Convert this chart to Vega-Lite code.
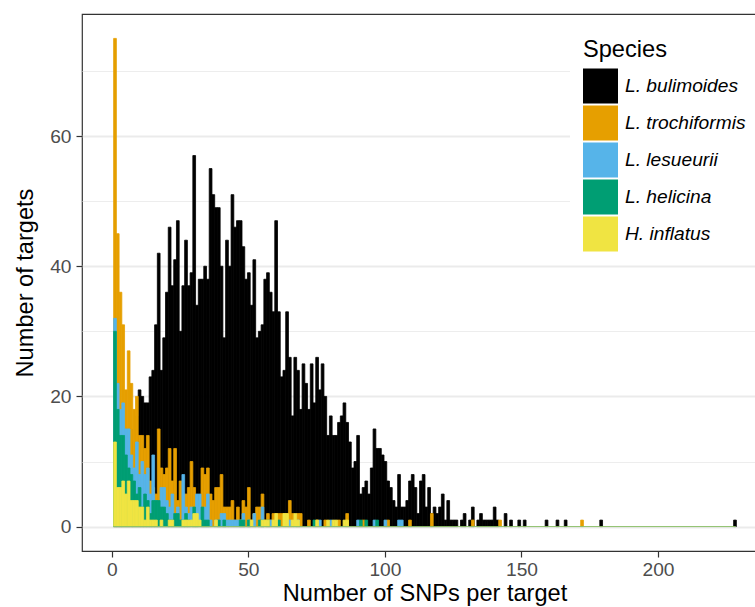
{
  "$schema": "https://vega.github.io/schema/vega-lite/v6.json",
  "width": 685,
  "height": 537,
  "autosize": {"type": "none"},
  "padding": {"left": 82, "top": 14, "right": 0, "bottom": 56},
  "background": "white",
  "config": {
    "font": "Liberation Sans",
    "view": {"stroke": "#333333", "strokeWidth": 1.2}
  },
  "layer": [
    {
      "data": {"values": [
{"species":"L. bulimoides","snps":1,"targets":2},{"species":"L. bulimoides","snps":2,"targets":3},{"species":"L. bulimoides","snps":3,"targets":5},{"species":"L. bulimoides","snps":4,"targets":8},{"species":"L. bulimoides","snps":5,"targets":10},{"species":"L. bulimoides","snps":6,"targets":12},{"species":"L. bulimoides","snps":7,"targets":13},{"species":"L. bulimoides","snps":8,"targets":15},{"species":"L. bulimoides","snps":9,"targets":17},{"species":"L. bulimoides","snps":10,"targets":21},
{"species":"L. bulimoides","snps":11,"targets":20},{"species":"L. bulimoides","snps":12,"targets":19},{"species":"L. bulimoides","snps":13,"targets":19},{"species":"L. bulimoides","snps":14,"targets":23},{"species":"L. bulimoides","snps":15,"targets":24},{"species":"L. bulimoides","snps":16,"targets":31},{"species":"L. bulimoides","snps":17,"targets":42},{"species":"L. bulimoides","snps":18,"targets":24},{"species":"L. bulimoides","snps":19,"targets":29},{"species":"L. bulimoides","snps":20,"targets":36},
{"species":"L. bulimoides","snps":21,"targets":46},{"species":"L. bulimoides","snps":22,"targets":37},{"species":"L. bulimoides","snps":23,"targets":41},{"species":"L. bulimoides","snps":24,"targets":47},{"species":"L. bulimoides","snps":25,"targets":30},{"species":"L. bulimoides","snps":26,"targets":37},{"species":"L. bulimoides","snps":27,"targets":44},{"species":"L. bulimoides","snps":28,"targets":37},{"species":"L. bulimoides","snps":29,"targets":39},{"species":"L. bulimoides","snps":30,"targets":57},
{"species":"L. bulimoides","snps":31,"targets":34},{"species":"L. bulimoides","snps":32,"targets":38},{"species":"L. bulimoides","snps":33,"targets":38},{"species":"L. bulimoides","snps":34,"targets":40},{"species":"L. bulimoides","snps":35,"targets":38},{"species":"L. bulimoides","snps":36,"targets":55},{"species":"L. bulimoides","snps":37,"targets":51},{"species":"L. bulimoides","snps":38,"targets":49},{"species":"L. bulimoides","snps":39,"targets":49},{"species":"L. bulimoides","snps":40,"targets":40},
{"species":"L. bulimoides","snps":41,"targets":29},{"species":"L. bulimoides","snps":42,"targets":44},{"species":"L. bulimoides","snps":43,"targets":40},{"species":"L. bulimoides","snps":44,"targets":51},{"species":"L. bulimoides","snps":45,"targets":46},{"species":"L. bulimoides","snps":46,"targets":47},{"species":"L. bulimoides","snps":47,"targets":47},{"species":"L. bulimoides","snps":48,"targets":43},{"species":"L. bulimoides","snps":49,"targets":38},{"species":"L. bulimoides","snps":50,"targets":39},
{"species":"L. bulimoides","snps":51,"targets":34},{"species":"L. bulimoides","snps":52,"targets":41},{"species":"L. bulimoides","snps":53,"targets":29},{"species":"L. bulimoides","snps":54,"targets":30},{"species":"L. bulimoides","snps":55,"targets":31},{"species":"L. bulimoides","snps":56,"targets":38},{"species":"L. bulimoides","snps":57,"targets":39},{"species":"L. bulimoides","snps":58,"targets":36},{"species":"L. bulimoides","snps":59,"targets":33},{"species":"L. bulimoides","snps":60,"targets":47},
{"species":"L. bulimoides","snps":61,"targets":33},{"species":"L. bulimoides","snps":62,"targets":23},{"species":"L. bulimoides","snps":63,"targets":24},{"species":"L. bulimoides","snps":64,"targets":33},{"species":"L. bulimoides","snps":65,"targets":26},{"species":"L. bulimoides","snps":66,"targets":17},{"species":"L. bulimoides","snps":67,"targets":26},{"species":"L. bulimoides","snps":68,"targets":24},{"species":"L. bulimoides","snps":69,"targets":18},{"species":"L. bulimoides","snps":70,"targets":25},
{"species":"L. bulimoides","snps":71,"targets":22},{"species":"L. bulimoides","snps":72,"targets":18},{"species":"L. bulimoides","snps":73,"targets":25},{"species":"L. bulimoides","snps":74,"targets":19},{"species":"L. bulimoides","snps":75,"targets":26},{"species":"L. bulimoides","snps":76,"targets":21},{"species":"L. bulimoides","snps":77,"targets":25},{"species":"L. bulimoides","snps":78,"targets":20},{"species":"L. bulimoides","snps":79,"targets":14},{"species":"L. bulimoides","snps":80,"targets":17},
{"species":"L. bulimoides","snps":81,"targets":14},{"species":"L. bulimoides","snps":82,"targets":14},{"species":"L. bulimoides","snps":83,"targets":16},{"species":"L. bulimoides","snps":84,"targets":17},{"species":"L. bulimoides","snps":85,"targets":19},{"species":"L. bulimoides","snps":86,"targets":16},{"species":"L. bulimoides","snps":87,"targets":13},{"species":"L. bulimoides","snps":88,"targets":9},{"species":"L. bulimoides","snps":89,"targets":10},{"species":"L. bulimoides","snps":90,"targets":14},
{"species":"L. bulimoides","snps":91,"targets":5},{"species":"L. bulimoides","snps":92,"targets":6},{"species":"L. bulimoides","snps":93,"targets":7},{"species":"L. bulimoides","snps":94,"targets":5},{"species":"L. bulimoides","snps":95,"targets":9},{"species":"L. bulimoides","snps":96,"targets":15},{"species":"L. bulimoides","snps":97,"targets":12},{"species":"L. bulimoides","snps":98,"targets":12},{"species":"L. bulimoides","snps":99,"targets":11},{"species":"L. bulimoides","snps":100,"targets":10},
{"species":"L. bulimoides","snps":101,"targets":7},{"species":"L. bulimoides","snps":102,"targets":6},{"species":"L. bulimoides","snps":103,"targets":4},{"species":"L. bulimoides","snps":104,"targets":3},{"species":"L. bulimoides","snps":105,"targets":8},{"species":"L. bulimoides","snps":106,"targets":3},{"species":"L. bulimoides","snps":107,"targets":3},{"species":"L. bulimoides","snps":108,"targets":4},{"species":"L. bulimoides","snps":109,"targets":7},{"species":"L. bulimoides","snps":110,"targets":8},
{"species":"L. bulimoides","snps":111,"targets":6},{"species":"L. bulimoides","snps":112,"targets":2},{"species":"L. bulimoides","snps":113,"targets":7},{"species":"L. bulimoides","snps":114,"targets":8},{"species":"L. bulimoides","snps":115,"targets":3},{"species":"L. bulimoides","snps":116,"targets":6},{"species":"L. bulimoides","snps":117,"targets":2},{"species":"L. bulimoides","snps":118,"targets":3},{"species":"L. bulimoides","snps":119,"targets":2},{"species":"L. bulimoides","snps":120,"targets":3},
{"species":"L. bulimoides","snps":121,"targets":5},{"species":"L. bulimoides","snps":122,"targets":1},{"species":"L. bulimoides","snps":123,"targets":4},{"species":"L. bulimoides","snps":124,"targets":1},{"species":"L. bulimoides","snps":125,"targets":1},{"species":"L. bulimoides","snps":126,"targets":1},{"species":"L. bulimoides","snps":128,"targets":1},{"species":"L. bulimoides","snps":129,"targets":2},{"species":"L. bulimoides","snps":131,"targets":1},{"species":"L. bulimoides","snps":132,"targets":3},
{"species":"L. bulimoides","snps":134,"targets":1},{"species":"L. bulimoides","snps":135,"targets":2},{"species":"L. bulimoides","snps":136,"targets":1},{"species":"L. bulimoides","snps":137,"targets":1},{"species":"L. bulimoides","snps":138,"targets":1},{"species":"L. bulimoides","snps":139,"targets":1},{"species":"L. bulimoides","snps":140,"targets":3},{"species":"L. bulimoides","snps":141,"targets":1},{"species":"L. bulimoides","snps":144,"targets":2},{"species":"L. bulimoides","snps":146,"targets":1},
{"species":"L. bulimoides","snps":149,"targets":1},{"species":"L. bulimoides","snps":151,"targets":1},{"species":"L. bulimoides","snps":159,"targets":1},{"species":"L. bulimoides","snps":163,"targets":1},{"species":"L. bulimoides","snps":166,"targets":1},{"species":"L. bulimoides","snps":179,"targets":1},{"species":"L. bulimoides","snps":228,"targets":1},
{"species":"L. trochiformis","snps":1,"targets":75},{"species":"L. trochiformis","snps":2,"targets":45},{"species":"L. trochiformis","snps":3,"targets":36},{"species":"L. trochiformis","snps":4,"targets":31},{"species":"L. trochiformis","snps":5,"targets":21},{"species":"L. trochiformis","snps":6,"targets":27},{"species":"L. trochiformis","snps":7,"targets":22},{"species":"L. trochiformis","snps":8,"targets":18},{"species":"L. trochiformis","snps":9,"targets":20},{"species":"L. trochiformis","snps":10,"targets":14},
{"species":"L. trochiformis","snps":11,"targets":14},{"species":"L. trochiformis","snps":12,"targets":12},{"species":"L. trochiformis","snps":13,"targets":14},{"species":"L. trochiformis","snps":14,"targets":7},{"species":"L. trochiformis","snps":15,"targets":6},{"species":"L. trochiformis","snps":16,"targets":5},{"species":"L. trochiformis","snps":17,"targets":15},{"species":"L. trochiformis","snps":18,"targets":9},{"species":"L. trochiformis","snps":19,"targets":8},{"species":"L. trochiformis","snps":20,"targets":9},
{"species":"L. trochiformis","snps":21,"targets":12},{"species":"L. trochiformis","snps":22,"targets":7},{"species":"L. trochiformis","snps":23,"targets":12},{"species":"L. trochiformis","snps":24,"targets":4},{"species":"L. trochiformis","snps":25,"targets":7},{"species":"L. trochiformis","snps":26,"targets":5},{"species":"L. trochiformis","snps":27,"targets":5},{"species":"L. trochiformis","snps":28,"targets":6},{"species":"L. trochiformis","snps":29,"targets":10},{"species":"L. trochiformis","snps":30,"targets":6},
{"species":"L. trochiformis","snps":31,"targets":4},{"species":"L. trochiformis","snps":32,"targets":3},{"species":"L. trochiformis","snps":33,"targets":9},{"species":"L. trochiformis","snps":34,"targets":8},{"species":"L. trochiformis","snps":35,"targets":9},{"species":"L. trochiformis","snps":36,"targets":5},{"species":"L. trochiformis","snps":37,"targets":4},{"species":"L. trochiformis","snps":38,"targets":6},{"species":"L. trochiformis","snps":39,"targets":6},{"species":"L. trochiformis","snps":40,"targets":8},
{"species":"L. trochiformis","snps":41,"targets":3},{"species":"L. trochiformis","snps":42,"targets":3},{"species":"L. trochiformis","snps":43,"targets":3},{"species":"L. trochiformis","snps":44,"targets":4},{"species":"L. trochiformis","snps":45,"targets":1},{"species":"L. trochiformis","snps":46,"targets":3},{"species":"L. trochiformis","snps":47,"targets":1},{"species":"L. trochiformis","snps":48,"targets":4},{"species":"L. trochiformis","snps":49,"targets":3},{"species":"L. trochiformis","snps":50,"targets":6},
{"species":"L. trochiformis","snps":51,"targets":1},{"species":"L. trochiformis","snps":52,"targets":2},{"species":"L. trochiformis","snps":53,"targets":3},{"species":"L. trochiformis","snps":54,"targets":3},{"species":"L. trochiformis","snps":55,"targets":5},{"species":"L. trochiformis","snps":56,"targets":1},{"species":"L. trochiformis","snps":57,"targets":2},{"species":"L. trochiformis","snps":58,"targets":1},{"species":"L. trochiformis","snps":59,"targets":2},{"species":"L. trochiformis","snps":60,"targets":2},
{"species":"L. trochiformis","snps":61,"targets":2},{"species":"L. trochiformis","snps":62,"targets":2},{"species":"L. trochiformis","snps":63,"targets":2},{"species":"L. trochiformis","snps":64,"targets":2},{"species":"L. trochiformis","snps":65,"targets":4},{"species":"L. trochiformis","snps":66,"targets":2},{"species":"L. trochiformis","snps":68,"targets":2},{"species":"L. trochiformis","snps":69,"targets":2},{"species":"L. trochiformis","snps":72,"targets":1},{"species":"L. trochiformis","snps":75,"targets":1},
{"species":"L. trochiformis","snps":78,"targets":1},{"species":"L. trochiformis","snps":83,"targets":1},{"species":"L. trochiformis","snps":86,"targets":2},{"species":"L. trochiformis","snps":92,"targets":1},{"species":"L. trochiformis","snps":101,"targets":1},{"species":"L. trochiformis","snps":109,"targets":1},{"species":"L. trochiformis","snps":117,"targets":2},{"species":"L. trochiformis","snps":132,"targets":1},{"species":"L. trochiformis","snps":142,"targets":1},{"species":"L. trochiformis","snps":172,"targets":1},
{"species":"L. lesueurii","snps":1,"targets":32},{"species":"L. lesueurii","snps":2,"targets":22},{"species":"L. lesueurii","snps":3,"targets":18},{"species":"L. lesueurii","snps":4,"targets":19},{"species":"L. lesueurii","snps":5,"targets":15},{"species":"L. lesueurii","snps":6,"targets":15},{"species":"L. lesueurii","snps":7,"targets":11},{"species":"L. lesueurii","snps":8,"targets":9},{"species":"L. lesueurii","snps":9,"targets":13},{"species":"L. lesueurii","snps":10,"targets":8},
{"species":"L. lesueurii","snps":11,"targets":10},{"species":"L. lesueurii","snps":12,"targets":8},{"species":"L. lesueurii","snps":13,"targets":9},{"species":"L. lesueurii","snps":14,"targets":5},{"species":"L. lesueurii","snps":15,"targets":11},{"species":"L. lesueurii","snps":16,"targets":4},{"species":"L. lesueurii","snps":17,"targets":3},{"species":"L. lesueurii","snps":18,"targets":6},{"species":"L. lesueurii","snps":19,"targets":6},{"species":"L. lesueurii","snps":20,"targets":4},
{"species":"L. lesueurii","snps":21,"targets":3},{"species":"L. lesueurii","snps":22,"targets":5},{"species":"L. lesueurii","snps":23,"targets":2},{"species":"L. lesueurii","snps":24,"targets":3},{"species":"L. lesueurii","snps":25,"targets":1},{"species":"L. lesueurii","snps":26,"targets":8},{"species":"L. lesueurii","snps":27,"targets":3},{"species":"L. lesueurii","snps":28,"targets":2},{"species":"L. lesueurii","snps":29,"targets":3},{"species":"L. lesueurii","snps":30,"targets":2},
{"species":"L. lesueurii","snps":31,"targets":5},{"species":"L. lesueurii","snps":32,"targets":5},{"species":"L. lesueurii","snps":33,"targets":2},{"species":"L. lesueurii","snps":34,"targets":3},{"species":"L. lesueurii","snps":35,"targets":5},{"species":"L. lesueurii","snps":36,"targets":1},{"species":"L. lesueurii","snps":38,"targets":1},{"species":"L. lesueurii","snps":39,"targets":1},{"species":"L. lesueurii","snps":40,"targets":2},{"species":"L. lesueurii","snps":41,"targets":2},
{"species":"L. lesueurii","snps":42,"targets":1},{"species":"L. lesueurii","snps":43,"targets":1},{"species":"L. lesueurii","snps":44,"targets":1},{"species":"L. lesueurii","snps":45,"targets":1},{"species":"L. lesueurii","snps":46,"targets":1},{"species":"L. lesueurii","snps":47,"targets":1},{"species":"L. lesueurii","snps":48,"targets":2},{"species":"L. lesueurii","snps":50,"targets":1},{"species":"L. lesueurii","snps":52,"targets":2},{"species":"L. lesueurii","snps":55,"targets":3},
{"species":"L. lesueurii","snps":58,"targets":1},{"species":"L. lesueurii","snps":60,"targets":1},{"species":"L. lesueurii","snps":65,"targets":1},{"species":"L. lesueurii","snps":67,"targets":1},{"species":"L. lesueurii","snps":68,"targets":1},{"species":"L. lesueurii","snps":76,"targets":1},{"species":"L. lesueurii","snps":80,"targets":1},{"species":"L. lesueurii","snps":90,"targets":1},{"species":"L. lesueurii","snps":96,"targets":1},{"species":"L. lesueurii","snps":100,"targets":1},
{"species":"L. lesueurii","snps":105,"targets":1},{"species":"L. lesueurii","snps":106,"targets":1},
{"species":"L. helicina","snps":1,"targets":30},{"species":"L. helicina","snps":2,"targets":18},{"species":"L. helicina","snps":3,"targets":14},{"species":"L. helicina","snps":4,"targets":14},{"species":"L. helicina","snps":5,"targets":11},{"species":"L. helicina","snps":6,"targets":9},{"species":"L. helicina","snps":7,"targets":8},{"species":"L. helicina","snps":8,"targets":7},{"species":"L. helicina","snps":9,"targets":5},{"species":"L. helicina","snps":10,"targets":6},
{"species":"L. helicina","snps":11,"targets":3},{"species":"L. helicina","snps":12,"targets":5},{"species":"L. helicina","snps":13,"targets":4},{"species":"L. helicina","snps":14,"targets":2},{"species":"L. helicina","snps":15,"targets":4},{"species":"L. helicina","snps":16,"targets":4},{"species":"L. helicina","snps":17,"targets":4},{"species":"L. helicina","snps":18,"targets":3},{"species":"L. helicina","snps":19,"targets":3},{"species":"L. helicina","snps":20,"targets":2},
{"species":"L. helicina","snps":21,"targets":1},{"species":"L. helicina","snps":22,"targets":1},{"species":"L. helicina","snps":23,"targets":2},{"species":"L. helicina","snps":24,"targets":2},{"species":"L. helicina","snps":25,"targets":1},{"species":"L. helicina","snps":26,"targets":1},{"species":"L. helicina","snps":27,"targets":2},{"species":"L. helicina","snps":28,"targets":1},{"species":"L. helicina","snps":30,"targets":3},{"species":"L. helicina","snps":31,"targets":1},
{"species":"L. helicina","snps":33,"targets":3},{"species":"L. helicina","snps":34,"targets":1},{"species":"L. helicina","snps":35,"targets":1},{"species":"L. helicina","snps":39,"targets":1},{"species":"L. helicina","snps":41,"targets":1},{"species":"L. helicina","snps":47,"targets":1},{"species":"L. helicina","snps":48,"targets":1},{"species":"L. helicina","snps":50,"targets":1},{"species":"L. helicina","snps":54,"targets":1},{"species":"L. helicina","snps":55,"targets":1},
{"species":"L. helicina","snps":57,"targets":1},{"species":"L. helicina","snps":61,"targets":1},{"species":"L. helicina","snps":74,"targets":1},{"species":"L. helicina","snps":91,"targets":1},{"species":"L. helicina","snps":93,"targets":1},{"species":"L. helicina","snps":97,"targets":1},
{"species":"H. inflatus","snps":1,"targets":13},{"species":"H. inflatus","snps":2,"targets":6},{"species":"H. inflatus","snps":3,"targets":6},{"species":"H. inflatus","snps":4,"targets":7},{"species":"H. inflatus","snps":5,"targets":5},{"species":"H. inflatus","snps":6,"targets":7},{"species":"H. inflatus","snps":7,"targets":4},{"species":"H. inflatus","snps":8,"targets":4},{"species":"H. inflatus","snps":9,"targets":4},{"species":"H. inflatus","snps":10,"targets":3},
{"species":"H. inflatus","snps":11,"targets":3},{"species":"H. inflatus","snps":12,"targets":1},{"species":"H. inflatus","snps":13,"targets":3},{"species":"H. inflatus","snps":14,"targets":1},{"species":"H. inflatus","snps":15,"targets":1},{"species":"H. inflatus","snps":16,"targets":1},{"species":"H. inflatus","snps":18,"targets":1},{"species":"H. inflatus","snps":21,"targets":1},{"species":"H. inflatus","snps":22,"targets":1},{"species":"H. inflatus","snps":26,"targets":1},
{"species":"H. inflatus","snps":27,"targets":1},{"species":"H. inflatus","snps":28,"targets":1},{"species":"H. inflatus","snps":29,"targets":1},{"species":"H. inflatus","snps":30,"targets":2},{"species":"H. inflatus","snps":31,"targets":2},{"species":"H. inflatus","snps":32,"targets":1},{"species":"H. inflatus","snps":38,"targets":1},{"species":"H. inflatus","snps":51,"targets":1},{"species":"H. inflatus","snps":55,"targets":1},{"species":"H. inflatus","snps":56,"targets":1},
{"species":"H. inflatus","snps":57,"targets":1},{"species":"H. inflatus","snps":59,"targets":1},{"species":"H. inflatus","snps":60,"targets":2},{"species":"H. inflatus","snps":63,"targets":2},{"species":"H. inflatus","snps":64,"targets":2},{"species":"H. inflatus","snps":66,"targets":1},{"species":"H. inflatus","snps":67,"targets":2},{"species":"H. inflatus","snps":68,"targets":1},{"species":"H. inflatus","snps":75,"targets":1},{"species":"H. inflatus","snps":79,"targets":1},
{"species":"H. inflatus","snps":81,"targets":1},{"species":"H. inflatus","snps":82,"targets":1},{"species":"H. inflatus","snps":85,"targets":1},{"species":"H. inflatus","snps":86,"targets":1}
      ]},
      "mark": {"type": "bar", "binSpacing": 0, "opacity": 1, "strokeWidth": 0.8},
      "encoding": {
        "x": {
          "field": "snps",
          "type": "quantitative",
          "bin": {"step": 1, "extent": [0.5, 228.5], "nice": false},
          "title": "Number of SNPs per target",
          "scale": {"domain": [-10.9, 239.9], "nice": false, "zero": false},
          "axis": {
            "values": [0, 25, 50, 75, 100, 125, 150, 175, 200, 225],
            "labelExpr": "datum.value % 50 === 0 ? datum.value : ''",
            "labelOverlap": false,
            "labelFlush": false,
            "domain": false,
            "tickSize": 6,
            "tickWidth": 1.2,
            "tickColor": "#333333",
            "tickOpacity": {"condition": {"test": "datum.value % 50 === 0", "value": 1}, "value": 0},
            "gridColor": "#EBEBEB",
            "gridWidth": {"condition": {"test": "datum.value % 50 === 0", "value": 1.8}, "value": 0.9},
            "labelColor": "#4D4D4D",
            "labelFontSize": 19.2,
            "labelPadding": 3,
            "titleFontSize": 23.6,
            "titleFontWeight": "normal",
            "titleColor": "black",
            "titlePadding": 2
          }
        },
        "y": {
          "field": "targets",
          "type": "quantitative",
          "stack": null,
          "title": "Number of targets",
          "scale": {"domain": [-3.75, 78.75], "nice": false, "zero": false},
          "axis": {
            "values": [0, 10, 20, 30, 40, 50, 60, 70],
            "labelExpr": "datum.value % 20 === 0 ? datum.value : ''",
            "labelOverlap": false,
            "labelFlush": false,
            "domain": false,
            "tickSize": 6,
            "tickWidth": 1.2,
            "tickColor": "#333333",
            "tickOpacity": {"condition": {"test": "datum.value % 20 === 0", "value": 1}, "value": 0},
            "gridColor": "#EBEBEB",
            "gridWidth": {"condition": {"test": "datum.value % 20 === 0", "value": 1.8}, "value": 0.9},
            "labelColor": "#4D4D4D",
            "labelFontSize": 19.2,
            "labelPadding": 5,
            "titleFontSize": 23.6,
            "titleFontWeight": "normal",
            "titleColor": "black",
            "titlePadding": 12
          }
        },
        "y2": {"datum": 0},
        "color": {
          "field": "species",
          "type": "nominal",
          "title": "Species",
          "scale": {
            "domain": ["L. bulimoides", "L. trochiformis", "L. lesueurii", "L. helicina", "H. inflatus"],
            "range": ["#000000", "#E69F00", "#56B4E9", "#009E73", "#F0E442"]
          },
          "legend": {
            "orient": "none",
            "legendX": 488,
            "legendY": 11,
            "fillColor": "white",
            "padding": 13,
            "titleFontSize": 23.6,
            "titleFontWeight": "normal",
            "titleColor": "black",
            "titlePadding": 7,
            "labelFontSize": 19.2,
            "labelFontStyle": "italic",
            "labelColor": "black",
            "labelOffset": 7,
            "labelLimit": 300,
            "symbolType": "square",
            "symbolSize": 1225,
            "symbolStrokeWidth": 0,
            "symbolOpacity": 1,
            "rowPadding": 2
          }
        },
        "stroke": {
          "field": "species",
          "type": "nominal",
          "scale": {
            "domain": ["L. bulimoides", "L. trochiformis", "L. lesueurii", "L. helicina", "H. inflatus"],
            "range": ["#000000", "#E69F00", "#56B4E9", "#009E73", "#F0E442"]
          },
          "legend": null
        }
      }
    },
    {
      "data": {"values": [{}]},
      "mark": {"type": "rule", "color": "#8CBF6A", "strokeWidth": 1},
      "encoding": {
        "x": {"datum": 0.5, "type": "quantitative", "title": "Number of SNPs per target"},
        "x2": {"datum": 228.5},
        "y": {"datum": 0, "type": "quantitative", "title": "Number of targets"}
      }
    }
  ]
}
